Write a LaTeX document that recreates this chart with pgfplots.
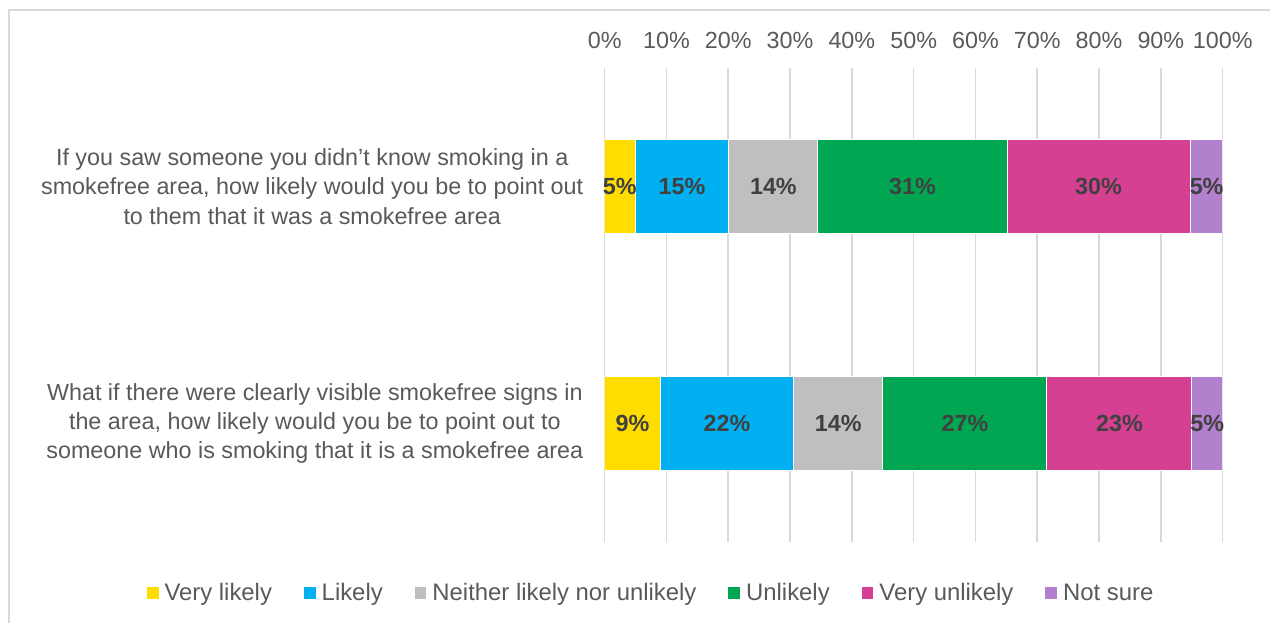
\documentclass[border=0pt]{standalone}
\usepackage{fontspec}
\setmainfont{Liberation Sans}
\usepackage{pgfplots}
\pgfplotsset{compat=1.18}
\definecolor{cVL}{RGB}{255,221,0}
\definecolor{cL}{RGB}{0,176,240}
\definecolor{cN}{RGB}{191,191,191}
\definecolor{cU}{RGB}{0,166,81}
\definecolor{cVU}{RGB}{214,64,146}
\definecolor{cNS}{RGB}{178,128,204}
\definecolor{txt}{RGB}{89,89,89}
\definecolor{lbl}{RGB}{64,64,64}
\definecolor{grd}{RGB}{217,217,217}
\newcommand\chartfont{\fontsize{17.5}{22}\selectfont}
\newcommand\legfont{\fontsize{17.9}{22}\selectfont}
\pgfplotsset{
  sq/.style={legend image code/.code={\fill[##1,draw=none] (0pt,-4.4pt) rectangle (8.8pt,4.4pt);}},
  common/.style={
    at={(453.5pt,60.75pt)}, anchor=south west,
    scale only axis, width=463.5pt, height=355.5pt,
    xmin=0, xmax=100, ymin=-0.5, ymax=1.5, y dir=reverse,
  }
}
\begin{document}
\begin{tikzpicture}
\path[use as bounding box] (0,0) rectangle (952.5pt,467.25pt);
\draw[grd, line width=1.2pt] (6.75pt,0) -- (6.75pt,459.75pt) -- (952.5pt,459.75pt);
\begin{axis}[common,
  xbar stacked, bar width=70.5pt,
  axis line style={draw=none}, tick style={draw=none},
  xtick={0,10,...,100},
  xticklabels={0\%,10\%,20\%,30\%,40\%,50\%,60\%,70\%,80\%,90\%,100\%},
  xticklabel pos=top,
  xticklabel style={font=\chartfont, text=txt, yshift=11pt},
  xmajorgrids, grid style={grd, line width=1.2pt},
  ytick={0,1},
  yticklabels={{If you saw someone you didn’t know smoking in a\\smokefree area, how likely would you be to point out\\to them that it was a smokefree area},
    {What if there were clearly visible smokefree signs in\\the area, how likely would you be to point out to\\someone who is smoking that it is a smokefree area}},
  yticklabel style={align=center, font=\chartfont, text=txt, xshift=-12.5pt},
  legend columns=6,
  legend style={draw=none, fill=none, at={(axis description cs:0.0757,-0.1076)}, anchor=center,
    font=\legfont, text=txt, /tikz/every even column/.append style={column sep=22pt},
    /tikz/every odd column/.append style={column sep=2.5pt}},
]
\addplot[fill=cVL, draw=white, line width=0.6pt, sq] coordinates {(4.9,0) (9.0,1)};
\addplot[fill=cL, draw=white, line width=0.6pt, sq] coordinates {(15.2,0) (21.6,1)};
\addplot[fill=cN, draw=white, line width=0.6pt, sq] coordinates {(14.4,0) (14.4,1)};
\addplot[fill=cU, draw=white, line width=0.6pt, sq] coordinates {(30.6,0) (26.5,1)};
\addplot[fill=cVU, draw=white, line width=0.6pt, sq] coordinates {(29.6,0) (23.5,1)};
\addplot[fill=cNS, draw=white, line width=0.6pt, sq] coordinates {(5.3,0) (5.0,1)};
\legend{Very likely, Likely, Neither likely nor unlikely, Unlikely, Very unlikely, Not sure}
\end{axis}
\begin{axis}[common, hide axis]
\addplot[draw=none, nodes near coords, point meta=explicit symbolic,
  every node near coord/.append style={anchor=center, font=\chartfont\bfseries, text=lbl}]
  coordinates {(2.45,0) [5\%] (12.5,0) [15\%] (27.3,0) [14\%] (49.8,0) [31\%] (79.9,0) [30\%] (97.4,0) [5\%]
               (4.5,1) [9\%] (19.8,1) [22\%] (37.8,1) [14\%] (58.3,1) [27\%] (83.3,1) [23\%] (97.5,1) [5\%]};
\end{axis}
\end{tikzpicture}
\end{document}
